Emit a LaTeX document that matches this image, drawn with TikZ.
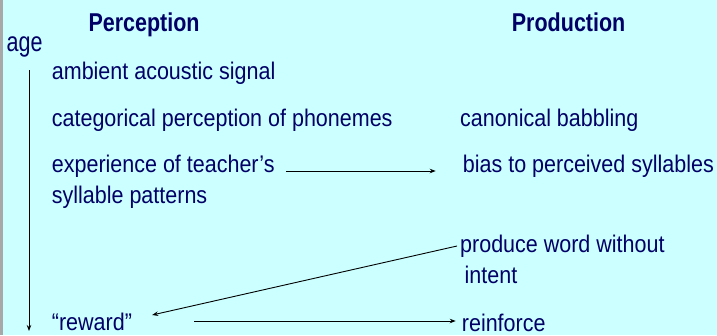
\documentclass[tikz,border=0pt]{standalone}
\usepackage{fontspec}
\usepackage{graphicx}
\setmainfont{Liberation Sans}
\usetikzlibrary{arrows.meta}
\definecolor{bgcyan}{HTML}{CCFFFF}
\definecolor{navy}{RGB}{0,0,102}
\definecolor{edgegrey}{HTML}{A8A8A8}
\newcommand{\tallbody}[1]{\scalebox{1}[1.12]{#1}}
\newcommand{\tallhead}[1]{\scalebox{1}[1.2]{#1}}
\newcommand{\tallage}[1]{\scalebox{1}[1.28]{#1}}
\begin{document}
\begin{tikzpicture}[x=1pt,y=-1pt,
  lbl/.style={anchor=base west,inner sep=0pt,text=navy,font=\fontsize{21.5}{26}\selectfont},
  head/.style={lbl,font=\fontsize{21.5}{26}\selectfont\bfseries},
  conn/.style={line width=0.9pt,-{Stealth[length=6pt,width=4.5pt]}}]
\fill[bgcyan] (0,0) rectangle (717,335);
\fill[edgegrey] (0,0) rectangle (2.5,335);
\useasboundingbox (0,0) rectangle (717,335);
\node[head] (perc) at (88.3,31) {\tallhead{Perception}};
\node[head] (prod) at (511.7,31) {\tallhead{Production}};
\node[lbl] (age) at (6.5,51) {\tallage{age}};
\node[lbl] (amb) at (51.7,79) {\tallbody{ambient acoustic signal}};
\node[lbl] (cat) at (51.7,126) {\tallbody{categorical perception of phonemes}};
\node[lbl] (canon) at (460,126) {\tallbody{canonical babbling}};
\node[lbl] (exp1) at (51.7,172) {\tallbody{experience of teacher’s}};
\node[lbl] (exp2) at (51.7,203) {\tallbody{syllable patterns}};
\node[lbl] (bias) at (462.7,172) {\tallbody{bias to perceived syllables}};
\node[lbl] (pw1) at (460,252) {\tallbody{produce word without}};
\node[lbl] (pw2) at (464.5,283) {\tallbody{intent}};
\node[lbl] (reward) at (51.7,330) {\tallbody{“reward”}};
\node[lbl] (reinf) at (461.7,331) {\tallbody{reinforce}};
\coordinate (agetop) at (29,70);
\coordinate (agebot) at (29,331);
\draw[conn] (agetop) -- (agebot);
\draw[conn,shorten <=11pt,shorten >=27pt] ([yshift=1pt]exp1.base east) -- ([yshift=1pt]bias.base west);
\draw[conn] ([xshift=-3pt,yshift=6pt]pw1.base west) -- ([xshift=20pt,yshift=15pt]reward.base east);
\draw[conn] ([xshift=62pt,yshift=9pt]reward.base east) -- ([xshift=-6pt,yshift=10pt]reinf.base west);
\end{tikzpicture}
\end{document}
